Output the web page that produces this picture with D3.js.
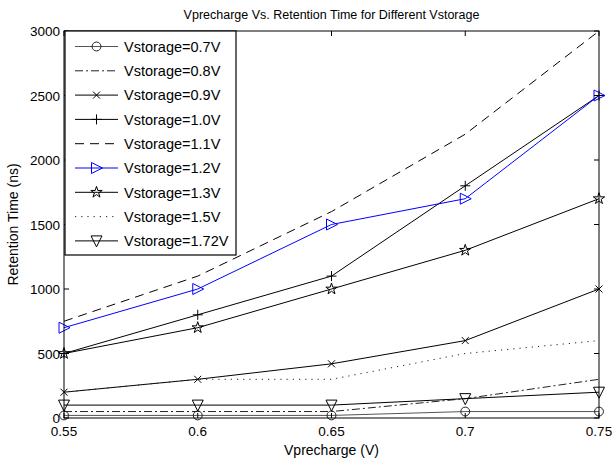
<!DOCTYPE html>
<html><head><meta charset="utf-8">
<script src="https://cdn.jsdelivr.net/npm/d3@7/dist/d3.min.js"></script>
<style>body{margin:0;background:#fff;} svg{display:block;font-family:"Liberation Sans",Arial,sans-serif;}</style>
</head><body><div id="chart"></div>
<script>
const xValues = [0.55, 0.6, 0.65, 0.7, 0.75];
const seriesNames = ["Vstorage=0.7V","Vstorage=0.8V","Vstorage=0.9V","Vstorage=1.0V","Vstorage=1.1V","Vstorage=1.2V","Vstorage=1.3V","Vstorage=1.5V","Vstorage=1.72V"];
const v07 = [20, 20, 20, 50, 50];
const v08 = [50, 50, 50, 150, 300];
const v09 = [200, 300, 420, 600, 1000];
const v10 = [500, 800, 1100, 1800, 2500];
const v11 = [750, 1100, 1600, 2200, 3000];
const v12 = [700, 1000, 1500, 1700, 2500];
const v13 = [500, 700, 1000, 1300, 1700];
const v15 = [200, 300, 300, 500, 600];
const v172 = [100, 100, 100, 150, 200];
const xTicks = [0.55, 0.6, 0.65, 0.7, 0.75];
const yTicks = [0, 500, 1000, 1500, 2000, 2500, 3000];
const title = "Vprecharge Vs. Retention Time for Different Vstorage";
const xLabel = "Vprecharge (V)";
const yLabel = "Retention Time (ns)";

const styles = [
  {values: v07, color: "#555", mcolor: "#222", dash: null, marker: "circle"},
  {values: v08, color: "#222", dash: "8,3,2,3", marker: null},
  {values: v09, color: "#000", dash: null, marker: "x"},
  {values: v10, color: "#000", dash: null, marker: "plus"},
  {values: v11, color: "#000", dash: "9,6", marker: null},
  {values: v12, color: "#0000ff", dash: null, marker: "triRight"},
  {values: v13, color: "#000", dash: null, marker: "star"},
  {values: v15, color: "#222", dash: "1.2,5", marker: null},
  {values: v172, color: "#000", dash: null, marker: "triDown"}
];

const W = 612, H = 461;
const L = 64, R = 599, T = 31, B = 418;
const svg = d3.select("#chart").append("svg").attr("width", W).attr("height", H);
const x = d3.scaleLinear().domain([0.55, 0.75]).range([L, R]);
const y = d3.scaleLinear().domain([0, 3000]).range([B, T]);

function markerPath(type) {
  switch (type) {
    case "x": return `M-3.5,-3.5L3.5,3.5M-3.5,3.5L3.5,-3.5`;
    case "plus": return `M-5,0L5,0M0,-5L0,5`;
    case "triRight": return `M-5,-5.5L6,0L-5,5.5Z`;
    case "triDown": return `M-5.5,-5L5.5,-5L0,6Z`;
    case "star": return d3.symbol(d3.symbolStar, 40)();
    case "circle": return d3.symbol(d3.symbolCircle, 62)();
  }
  return null;
}

const g = svg.append("g");
const line = d3.line().x((d, i) => x(xValues[i])).y(d => y(d));

styles.forEach(s => {
  g.append("path").attr("d", line(s.values)).attr("fill", "none")
    .attr("stroke", s.color).attr("stroke-width", 1)
    .attr("stroke-dasharray", s.dash);
  if (s.marker) {
    s.values.forEach((v, i) => {
      g.append("path").attr("d", markerPath(s.marker))
        .attr("transform", `translate(${x(xValues[i])},${y(v)})`)
        .attr("fill", "none").attr("stroke", s.mcolor || s.color).attr("stroke-width", 1);
    });
  }
});

// axes box and ticks
const axG = svg.append("g");
axG.append("rect").attr("x", L).attr("y", T).attr("width", R - L).attr("height", B - T)
  .attr("fill", "none").attr("stroke", "#000").attr("stroke-width", 1);
const tl = 5;
xTicks.forEach(t => {
  axG.append("line").attr("x1", x(t)).attr("x2", x(t)).attr("y1", B).attr("y2", B - tl).attr("stroke", "#000");
  axG.append("line").attr("x1", x(t)).attr("x2", x(t)).attr("y1", T).attr("y2", T + tl).attr("stroke", "#000");
  axG.append("text").attr("x", x(t)).attr("y", 436).attr("text-anchor", "middle")
    .attr("font-size", 13.5).text(d3.format("")(t));
});
yTicks.forEach(t => {
  axG.append("line").attr("x1", L).attr("x2", L + tl).attr("y1", y(t)).attr("y2", y(t)).attr("stroke", "#000");
  axG.append("line").attr("x1", R).attr("x2", R - tl).attr("y1", y(t)).attr("y2", y(t)).attr("stroke", "#000");
  axG.append("text").attr("x", L - 4).attr("y", y(t) + 5).attr("text-anchor", "end")
    .attr("font-size", 13.5).text(t);
});

svg.append("text").attr("x", (L + R) / 2).attr("y", 19).attr("text-anchor", "middle")
  .attr("font-size", 12.5).text(title);
svg.append("text").attr("x", (L + R) / 2).attr("y", 455).attr("text-anchor", "middle")
  .attr("font-size", 14).text(xLabel);
svg.append("text").attr("transform", `translate(18,${(T + B) / 2}) rotate(-90)`)
  .attr("text-anchor", "middle").attr("font-size", 14).text(yLabel);

// legend
const lg = svg.append("g");
lg.append("rect").attr("x", 65).attr("y", 31).attr("width", 171).attr("height", 224)
  .attr("fill", "#fff").attr("stroke", "#000").attr("stroke-width", 1.2);
styles.forEach((s, i) => {
  const yy = 46.5 + i * 24.3;
  lg.append("line").attr("x1", 75).attr("x2", 118).attr("y1", yy).attr("y2", yy)
    .attr("stroke", s.color).attr("stroke-width", 1).attr("stroke-dasharray", s.dash);
  if (s.marker) {
    lg.append("path").attr("d", markerPath(s.marker)).attr("transform", `translate(96.5,${yy})`)
      .attr("fill", "none").attr("stroke", s.mcolor || s.color);
  }
  lg.append("text").attr("x", 124).attr("y", yy + 5.2).attr("font-size", 14.5).text(seriesNames[i]);
});
</script></body></html>
